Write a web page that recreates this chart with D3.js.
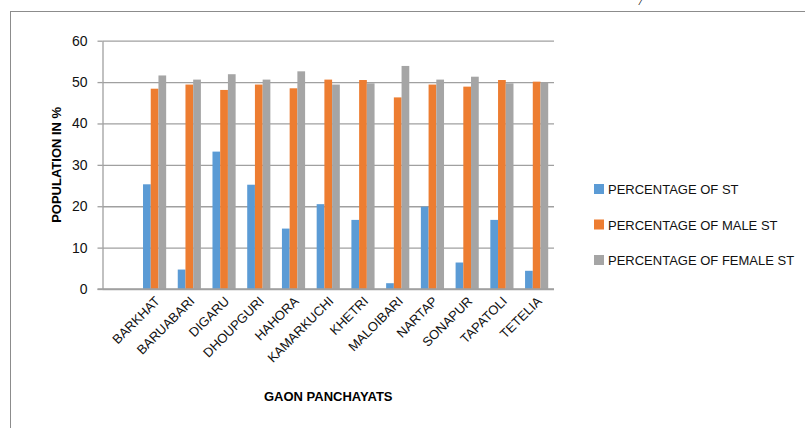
<!DOCTYPE html>
<html>
<head>
<meta charset="utf-8">
<script src="https://cdn.jsdelivr.net/npm/d3@7"></script>
<style>
  body { margin: 0; background: #fff; }
  text { font-family: "Liberation Sans", Arial, sans-serif; }
</style>
</head>
<body>
<div id="chart"></div>
<script>
// chart data
var gaonPanchayats = ["BARKHAT", "BARUABARI", "DIGARU", "DHOUPGURI", "HAHORA", "KAMARKUCHI",
                      "KHETRI", "MALOIBARI", "NARTAP", "SONAPUR", "TAPATOLI", "TETELIA"];
var percentST =       [25.3, 4.7, 33.2, 25.2, 14.6, 20.5, 16.7, 1.4, 19.9, 6.4, 16.7, 4.4];
var percentMaleST =   [48.4, 49.4, 48.1, 49.4, 48.5, 50.6, 50.5, 46.3, 49.4, 48.9, 50.5, 50.1];
var percentFemaleST = [51.6, 50.6, 51.9, 50.6, 52.6, 49.4, 49.7, 53.9, 50.6, 51.3, 49.7, 49.9];
var seriesNames = ["PERCENTAGE OF ST", "PERCENTAGE OF MALE ST", "PERCENTAGE OF FEMALE ST"];
var yTicks = [0, 10, 20, 30, 40, 50, 60];

var width = 805,
    height = 428;

// plot area
var plotLeft = 102.5, plotRight = 554, plotTop = 40.7, plotBottom = 289;

var svg = d3.select("#chart")
  .append("svg")
    .attr("width", width)
    .attr("height", height);

// outer frame (runs off the picture on the right and bottom)
svg.append("rect")
  .attr("x", 10.5).attr("y", 11.5)
  .attr("width", 900).attr("height", 500)
  .attr("fill", "none")
  .attr("stroke", "#8c8c8c");

// bit of text cut off at the top
svg.append("text")
  .attr("x", 639).attr("y", 5)
  .style("font-family", "Liberation Serif")
  .style("font-size", "13px")
  .style("font-style", "italic")
  .text("/");

// first slot on the category axis is empty
var slots = [""].concat(gaonPanchayats);

var x = d3.scaleBand()
  .domain(slots)
  .range([plotLeft, plotRight]);

var xs = d3.scaleBand()
  .domain(seriesNames)
  .range([0, x.bandwidth()])
  .paddingOuter(0.75);

var y = d3.scaleLinear()
  .domain([0, 60])
  .range([plotBottom, plotTop]);

var color = d3.scaleOrdinal()
  .domain(seriesNames)
  .range(["#5b9bd5", "#ed7d31", "#a5a5a5"]);

// gridlines
var grid = svg.append("g")
  .attr("transform", "translate(" + plotLeft + ",0)")
  .call(d3.axisLeft(y).tickValues(yTicks).tickSize(-(plotRight - plotLeft)).tickFormat(""));
grid.select(".domain").remove();
grid.selectAll("line").attr("stroke", "#a0a0a0").attr("stroke-width", 1.3);

// y axis
var yAxis = svg.append("g")
  .attr("transform", "translate(" + plotLeft + ",0)")
  .call(d3.axisLeft(y).tickValues(yTicks).tickSize(5).tickSizeOuter(0).tickPadding(10));
yAxis.select(".domain").attr("stroke", "#a0a0a0").attr("stroke-width", 1.3);
yAxis.selectAll("line").attr("stroke", "#a0a0a0").attr("stroke-width", 1.3);
yAxis.selectAll("text")
  .style("font-size", "14px")
  .attr("fill", "#111");

// bars
var rows = gaonPanchayats.map(function(name, i) {
  return {name: name, values: [percentST[i], percentMaleST[i], percentFemaleST[i]]};
});

var groups = svg.selectAll(".group")
  .data(rows)
  .enter()
  .append("g")
    .attr("transform", function(d) { return "translate(" + x(d.name) + ",0)"; });

groups.selectAll("rect")
  .data(function(d) {
    return d.values.map(function(v, j) { return {key: seriesNames[j], value: v}; });
  })
  .enter()
  .append("rect")
    .attr("x", function(d) { return xs(d.key); })
    .attr("width", xs.bandwidth())
    .attr("y", function(d) { return y(d.value); })
    .attr("height", function(d) { return y(0) - y(d.value); })
    .attr("fill", function(d) { return color(d.key); });

// baseline redrawn over bars
svg.append("line")
  .attr("x1", plotLeft - 5).attr("x2", plotRight)
  .attr("y1", y(0)).attr("y2", y(0))
  .attr("stroke", "#a0a0a0").attr("stroke-width", 1.3);

// category labels, rotated
svg.selectAll(".xlabel")
  .data(gaonPanchayats)
  .enter()
  .append("text")
    .attr("transform", function(d) {
      return "translate(" + (x(d) + x.bandwidth() / 2 + 6) + "," + 302 + ") rotate(-45)";
    })
    .style("text-anchor", "end")
    .style("font-size", "13px")
    .attr("fill", "#111")
    .text(function(d) { return d; });

// axis titles
svg.append("text")
  .attr("transform", "translate(61," + (plotTop + plotBottom) / 2 + ") rotate(-90)")
  .style("text-anchor", "middle")
  .style("font-size", "13px")
  .style("font-weight", "bold")
  .text("POPULATION IN %");

svg.append("text")
  .attr("x", (plotLeft + plotRight) / 2)
  .attr("y", 401)
  .style("text-anchor", "middle")
  .style("font-size", "13px")
  .style("font-weight", "bold")
  .text("GAON PANCHAYATS");

// legend
var legend = svg.selectAll(".legend")
  .data(seriesNames)
  .enter()
  .append("g")
    .attr("transform", function(d, i) { return "translate(594," + (184 + i * 35.5) + ")"; });

legend.append("rect")
  .attr("width", 10).attr("height", 10)
  .attr("fill", function(d) { return color(d); });

legend.append("text")
  .attr("x", 14).attr("y", 10)
  .style("font-size", "13px")
  .attr("fill", "#111")
  .text(function(d) { return d; });
</script>
</body>
</html>
